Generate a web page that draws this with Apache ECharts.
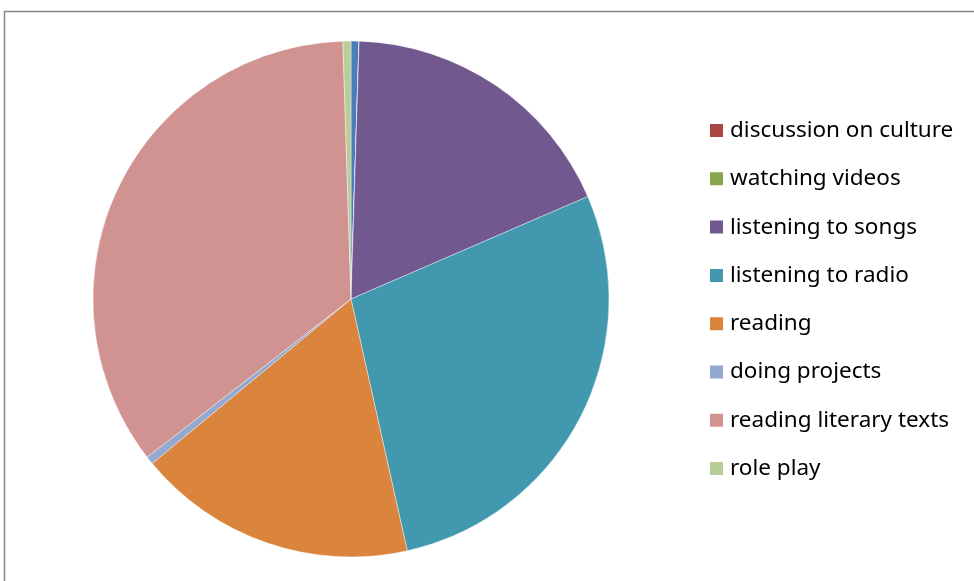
<!DOCTYPE html>
<html>
<head>
<meta charset="utf-8">
<script src="https://cdn.jsdelivr.net/npm/echarts@6/dist/echarts.min.js"></script>
<style>
  html, body { margin: 0; padding: 0; background: #fff; }
  #chart { width: 974px; height: 581px; }
</style>
</head>
<body>
<div id="chart"></div>
<script>
// Activity shares (percent), clockwise from 12 o'clock
const categories = [
  '',
  'discussion on culture',
  'watching videos',
  'listening to songs',
  'listening to radio',
  'reading',
  'doing projects',
  'reading literary texts',
  'role play'
];
const values = [0.5, 0, 0, 18, 28, 17.5, 0.5, 35, 0.5];
const colors = [
  '#4A7EBB', '#AA4643', '#89A54E', '#71588F', '#4198AF',
  '#DB843D', '#93A9CF', '#D19392', '#B9CD96'
];

const chart = echarts.init(document.getElementById('chart'), null, { renderer: 'canvas' });

chart.setOption({
  animation: false,
  backgroundColor: '#ffffff',
  color: colors,
  graphic: [{
    type: 'rect',
    shape: { x: 4.5, y: 11.5, width: 1000, height: 600 },
    style: { fill: 'none', stroke: '#868686', lineWidth: 1.5 },
    silent: true
  }],
  legend: {
    orient: 'vertical',
    left: 708,
    top: 119,
    padding: 0,
    icon: 'rect',
    itemWidth: 15,
    itemHeight: 15,
    itemGap: 25.3,
    data: categories.filter(c => c !== ''),
    textStyle: {
      fontFamily: 'Noto Sans',
      fontSize: 22.5,
      lineHeight: 22,
      color: '#000',
      padding: [0, 0, 0, 1]
    },
    selectedMode: false
  },
  series: [{
    type: 'pie',
    center: [351, 299],
    radius: 258,
    startAngle: 90,
    clockwise: true,
    avoidLabelOverlap: false,
    label: { show: false },
    labelLine: { show: false },
    emphasis: { disabled: true },
    itemStyle: { borderColor: '#ffffff', borderWidth: 0.4 },
    data: categories.map((name, i) => ({ name: name, value: values[i] }))
  }]
});
</script>
</body>
</html>
